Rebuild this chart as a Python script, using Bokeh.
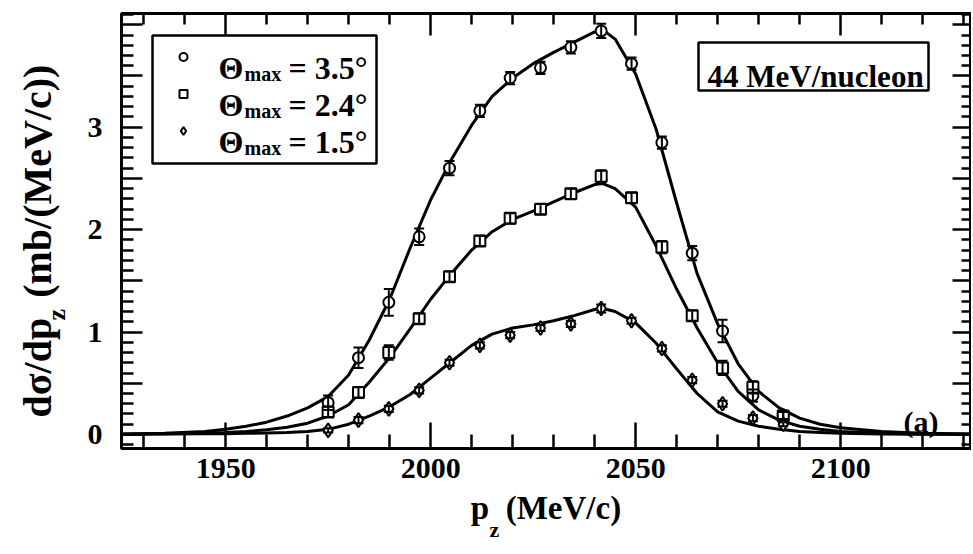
from bokeh.plotting import figure
from bokeh.models import (ColumnDataSource, Whisker, TeeHead, Label, BoxAnnotation,
                          LinearAxis, FixedTicker, Range1d, Legend, LegendItem,
                          CustomJSTickFormatter)
from bokeh.core.properties import value
from bokeh.embed import file_html
from bokeh.resources import INLINE
import math

# ---------------- data ----------------
pz = [1975.0, 1982.4, 1989.8, 1997.2, 2004.6, 2012.0, 2019.4, 2026.8,
      2034.2, 2041.6, 2049.0, 2056.4, 2063.8, 2071.2, 2078.6, 2086.0]
y35 = [0.31, 0.75, 1.29, 1.93, 2.60, 3.16, 3.48, 3.58, 3.78, 3.94, 3.62, 2.85, 1.77, 1.01, 0.38, 0.19]
e35 = [0.07, 0.10, 0.13, 0.08, 0.07, 0.06, 0.06, 0.06, 0.06, 0.07, 0.06, 0.06, 0.07, 0.11, 0.06, 0.04]
y24 = [0.22, 0.41, 0.80, 1.13, 1.54, 1.89, 2.11, 2.20, 2.35, 2.52, 2.31, 1.83, 1.16, 0.65, 0.46, 0.18]
e24 = [0.05, 0.05, 0.07, 0.05, 0.05, 0.05, 0.05, 0.05, 0.05, 0.06, 0.05, 0.06, 0.05, 0.07, 0.06, 0.04]
y15 = [0.04, 0.14, 0.25, 0.43, 0.70, 0.87, 0.97, 1.04, 1.08, 1.23, 1.11, 0.84, 0.53, 0.30, 0.16, 0.10]
e15 = [0.02, 0.03, 0.03, 0.03, 0.03, 0.03, 0.03, 0.03, 0.03, 0.04, 0.03, 0.03, 0.03, 0.03, 0.03, 0.02]

curve_pz = [1925, 1935, 1945, 1950, 1955, 1960, 1965, 1970, 1975, 1980, 1985, 1990,
            1995, 2000, 2005, 2010, 2015, 2020, 2025, 2030, 2035, 2040, 2042, 2045,
            2050, 2055, 2060, 2065, 2070, 2075, 2080, 2085, 2090, 2095, 2100, 2110,
            2120, 2132]
fit35 = [0.005, 0.012, 0.03, 0.05, 0.08, 0.12, 0.18, 0.26, 0.37, 0.58, 0.92, 1.32,
         1.82, 2.29, 2.68, 3.02, 3.30, 3.48, 3.62, 3.73, 3.83, 3.93, 3.95, 3.86,
         3.52, 2.98, 2.26, 1.57, 1.08, 0.69, 0.42, 0.26, 0.16, 0.10, 0.065, 0.03,
         0.012, 0.005]
fit24 = [0.003, 0.006, 0.015, 0.02, 0.03, 0.045, 0.07, 0.11, 0.18, 0.29, 0.51, 0.75,
         1.03, 1.32, 1.57, 1.80, 1.98, 2.10, 2.18, 2.27, 2.36, 2.44, 2.45, 2.40,
         2.22, 1.84, 1.42, 1.04, 0.70, 0.42, 0.24, 0.14, 0.08, 0.05, 0.03, 0.012,
         0.005, 0.002]
fit15 = [0.002, 0.004, 0.007, 0.008, 0.011, 0.015, 0.02, 0.03, 0.05, 0.10, 0.18, 0.27,
         0.39, 0.55, 0.71, 0.87, 0.98, 1.04, 1.07, 1.11, 1.16, 1.22, 1.23, 1.20,
         1.09, 0.89, 0.64, 0.40, 0.22, 0.13, 0.08, 0.05, 0.03, 0.02, 0.013, 0.005,
         0.002, 0.001]

x_major = [1950, 2000, 2050, 2100]
x_minor = [1930, 1940, 1960, 1970, 1980, 1990, 2010, 2020, 2030, 2040,
           2060, 2070, 2080, 2090, 2110, 2120, 2130]
y_major = [0, 0.5, 1, 1.5, 2, 2.5, 3, 3.5, 4]
y_labels = ["0", "1", "2", "3"]
y_minor = [-0.1, 0.1, 0.2, 0.3, 0.4, 0.6, 0.7, 0.8, 0.9, 1.1, 1.2, 1.3, 1.4, 1.6, 1.7,
           1.8, 1.9, 2.1, 2.2, 2.3, 2.4, 2.6, 2.7, 2.8, 2.9, 3.1, 3.2, 3.3, 3.4, 3.6,
           3.7, 3.8, 3.9, 4.1]

legend_values = ["3.5°", "2.4°", "1.5°"]
x_title = ("p", "z", "(MeV/c)")
y_title = ("dσ/dp", "z", "(mb/(MeV/c))")
info_text = "44 MeV/nucleon"
panel_tag = "(a)"

FONT = "Liberation Serif"
FL, FR, FT, FB = 121, 970, 13, 448      # frame edges in page pixels
W, H = 971, 552
X0 = 1924.6
X1 = X0 + (FR - FL) / 4.1
Y0, Y1 = -0.137, 4.11
EN = "\u2002"

# ---------------- figure ----------------
p = figure(width=W, height=H, x_range=Range1d(X0, X1), y_range=Range1d(Y0, Y1),
           output_backend="svg", toolbar_location=None,
           min_border_left=FL, min_border_right=W - FR, min_border_top=FT,
           min_border_bottom=H - FB)
p.xgrid.visible = False
p.ygrid.visible = False
p.outline_line_color = "black"
p.outline_line_width = 3
p.background_fill_color = "white"
p.border_fill_color = "white"

PXX = (FR - FL) / (X1 - X0)
PXY = (FB - FT) / (Y1 - Y0)
def dx(px):
    return X0 + (px - FL) / PXX
def dy(py):
    return Y1 - (py - FT) / PXY

def style_axis(ax, major_in, minor_in, labels=True):
    ax.axis_line_width = 3
    ax.major_tick_in = major_in
    ax.major_tick_out = 0
    ax.minor_tick_in = minor_in
    ax.minor_tick_out = 0
    ax.major_tick_line_width = 2.5
    ax.minor_tick_line_width = 2.5
    if labels:
        ax.major_label_text_font = FONT
        ax.major_label_text_font_style = "bold"
        ax.major_label_text_font_size = "30px"
        ax.major_label_text_color = "black"
        ax.axis_label_text_font = FONT
        ax.axis_label_text_font_style = "bold"
        ax.axis_label_text_color = "black"
    else:
        ax.major_label_text_font_size = "0px"
        ax.major_label_standoff = 0
        ax.formatter = CustomJSTickFormatter(code="return '';")

xb = p.xaxis[0]
xb.ticker = FixedTicker(ticks=x_major, minor_ticks=x_minor)
style_axis(xb, 26, 14)
xb.major_label_standoff = 10
xb.axis_label = x_title[0] + EN + x_title[2]
xb.axis_label_text_font_size = "33px"
xb.axis_label_standoff = 9

yl = p.yaxis[0]
yl.ticker = FixedTicker(ticks=y_major, minor_ticks=y_minor)
yl.formatter = CustomJSTickFormatter(args=dict(labs=y_labels), code="""
    const i = Math.round(tick);
    return (Math.abs(tick - i) < 1e-9 && i < labs.length) ? labs[i] : '';
""")
style_axis(yl, 21, 12)
yl.major_label_standoff = 19
yl.axis_label = y_title[0] + EN + y_title[2] + EN
yl.axis_label_text_font_size = "40px"
yl.axis_label_standoff = 25

xt = LinearAxis(ticker=FixedTicker(ticks=x_major, minor_ticks=x_minor))
style_axis(xt, 22, 11, labels=False)
p.add_layout(xt, "above")

yr = LinearAxis(ticker=FixedTicker(ticks=y_major, minor_ticks=y_minor))
style_axis(yr, 18, 9, labels=False)
p.add_layout(yr, "right")

# ---------------- curves ----------------
for fy in (fit35, fit24, fit15):
    p.line(curve_pz, fy, line_color="black", line_width=3, line_join="round")

# ---------------- points ----------------
r35 = p.scatter(pz, y35, marker="circle", size=11, fill_color="white",
                line_color="black", line_width=2)
r24 = p.scatter(pz, y24, marker="square", size=11, fill_color="white",
                line_color="black", line_width=2)
r15 = p.scatter(pz, y15, marker="diamond", size=14, fill_color="white",
                line_color="black", line_width=2)

for ys, es in ((y35, e35), (y24, e24), (y15, e15)):
    src = ColumnDataSource(dict(x=pz, upper=[a + b for a, b in zip(ys, es)],
                                lower=[a - b for a, b in zip(ys, es)]))
    p.add_layout(Whisker(source=src, base="x", upper="upper", lower="lower",
                         dimension="height", level="overlay", line_width=2,
                         line_color="black",
                         upper_head=TeeHead(size=10, line_width=2, line_color="black"),
                         lower_head=TeeHead(size=10, line_width=2, line_color="black")))

# ---------------- legend ----------------
legend = Legend(items=[LegendItem(label=value(" "), renderers=[r]) for r in (r35, r24, r15)],
                location=(52, FB - 149), padding=0, margin=0, spacing=0,
                glyph_width=20, glyph_height=37, label_height=37, label_width=1,
                label_standoff=0, border_line_alpha=0, background_fill_alpha=0,
                label_text_font_size="1px")
p.add_layout(legend)

BOX = dict(fill_alpha=0, line_color="black", line_alpha=1, line_width=2.5)
p.add_layout(BoxAnnotation(left=dx(152), right=dx(376), top=dy(35), bottom=dy(163), **BOX))

TXT = dict(text_font=FONT, text_font_style="bold", text_color="black",
           text_baseline="alphabetic")
for i, val in enumerate(legend_values):
    base = 67 + 37 * i
    p.add_layout(Label(x=dx(218), y=dy(base), text="Θ", text_font_size="32px",
                       text_align="left", **TXT))
    p.add_layout(Label(x=dx(244), y=dy(base + 6), text="max", text_font_size="20px",
                       text_align="left", **TXT))
    p.add_layout(Label(x=dx(288), y=dy(base), text="= " + val, text_font_size="32px",
                       text_align="left", **TXT))

# ---------------- info box and panel tag ----------------
p.add_layout(BoxAnnotation(left=dx(698), right=dx(928), top=dy(42), bottom=dy(90), **BOX))
p.add_layout(Label(x=dx(707), y=dy(76), text=info_text, text_font_size="31px",
                   text_align="left", **TXT))
p.add_layout(Label(x=dx(938), y=dy(421), text=panel_tag, text_font_size="30px",
                   text_align="right", **TXT))

# ---------------- subscripts of the axis titles (small side-panel labels) ----------------
p.add_layout(Label(x=dx(489), y=dy(529), text=x_title[1], text_font_size="22px",
                   text_align="left", **TXT), "left")
p.add_layout(Label(x=dx(56), y=dy(320), text=y_title[1], text_font_size="26px",
                   angle=math.pi / 2, text_align="left", **TXT), "above")

open("out.html", "w").write(file_html(p, INLINE))
